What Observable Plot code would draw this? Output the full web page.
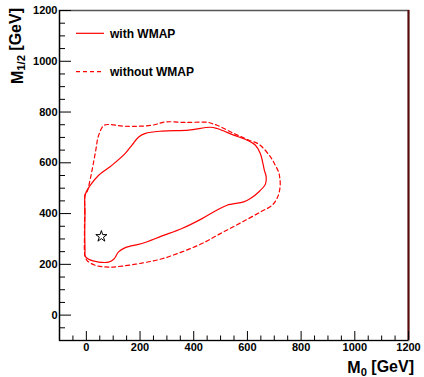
<!DOCTYPE html>
<html>
<head>
<meta charset="utf-8">
<script src="https://cdn.jsdelivr.net/npm/d3@7"></script>
<script src="https://cdn.jsdelivr.net/npm/@observablehq/plot@0.6"></script>
<style>
  html, body { margin: 0; padding: 0; background: #fff; }
  #chart { width: 424px; height: 377px; }
</style>
</head>
<body>
<div id="chart"></div>
<script>
// ---- data (GeV) ----
const withX = [-4, -5, -6, -5, -6, 9, 46, 83, 102, 120, 145, 207, 282, 356, 431, 480, 524, 586, 611, 642, 667, 670, 663, 648, 629, 599, 549, 487, 462, 381, 282, 220, 195, 170, 145, 96, 46, 15];
const withY = [475, 400, 320, 250, 235, 220, 209, 209, 220, 249, 266, 282, 312, 341, 380, 410, 433, 446, 459, 485, 516, 544, 571, 637, 670, 689, 709, 735, 740, 729, 725, 716, 702, 670, 637, 591, 551, 512];

const withoutX = [-4, -6, -7, -6, 2, 34, 83, 133, 207, 282, 356, 431, 499, 574, 648, 692, 713, 722, 720, 716, 704, 686, 643, 606, 549, 487, 474, 456, 369, 294, 245, 145, 83, 64, 46, 34, 15, 2];
const withoutY = [479, 413, 308, 242, 216, 196, 189, 193, 205, 222, 249, 282, 321, 363, 406, 433, 466, 510, 545, 564, 590, 623, 673, 689, 716, 748, 752, 759, 759, 761, 748, 744, 751, 746, 709, 643, 538, 485];

const bestFitX = [56];
const bestFitY = [310];

const xMajor = [0, 200, 400, 600, 800, 1000, 1200];
const yMajor = [0, 200, 400, 600, 800, 1000, 1200];
const xMinor = d3.range(-50, 1200, 50).filter(v => v % 200 !== 0);
const yMinor = d3.range(-50, 1200, 50).filter(v => v % 200 !== 0);

const legendLabels = ["with WMAP", "without WMAP"];
const legendDash = [null, "4,3"];

// ---- tables ----
const withData = withX.map((x, i) => ({x, y: withY[i]}));
const withoutData = withoutX.map((x, i) => ({x, y: withoutY[i]}));
const bestFit = bestFitX.map((x, i) => ({x, y: bestFitY[i]}));

const W = 424, H = 377;
const mL = 59, mR = 16, mT = 10, mB = 37;
const frameW = W - mL - mR, frameH = H - mT - mB;
const fmt = d3.format("d");

const plot = Plot.plot({
  width: W, height: H,
  marginLeft: mL, marginRight: mR, marginTop: mT, marginBottom: mB,
  style: {fontFamily: "'Liberation Sans', Arial, sans-serif", fontSize: "11px", fontWeight: "bold", color: "#000", background: "#fff"},
  x: {domain: [-100, 1200]},
  y: {domain: [-100, 1200]},
  marks: [
    Plot.frame({stroke: "#555", strokeWidth: 1.5}),
    Plot.ruleX([-100], {stroke: "#000", strokeWidth: 1.2}),
    Plot.ruleY([-100], {stroke: "#000", strokeWidth: 1.2}),
    Plot.ruleX([1200], {stroke: "#5a0808", strokeWidth: 2}),
    // ticks (inward, ROOT style)
    Plot.tickX(xMajor, {x: d => d, insetTop: frameH - 9, stroke: "#000"}),
    Plot.tickX(xMinor, {x: d => d, insetTop: frameH - 4.5, stroke: "#000"}),
    Plot.tickY(yMajor, {y: d => d, insetRight: frameW - 12, stroke: "#000"}),
    Plot.tickY(yMinor, {y: d => d, insetRight: frameW - 6, stroke: "#000"}),
    Plot.axisX(xMajor, {anchor: "bottom", tickSize: 0, tickPadding: 3, label: null, tickFormat: fmt, fontWeight: "bold", fontSize: 11}),
    Plot.axisY(yMajor, {anchor: "left", tickSize: 0, tickPadding: 2, label: null, tickFormat: fmt, fontWeight: "bold", fontSize: 11}),
    // contours
    Plot.line(withoutData, {x: "x", y: "y", stroke: "#ff0000", strokeWidth: 1.2, strokeDasharray: "4,3", curve: "catmull-rom-closed"}),
    Plot.line(withData, {x: "x", y: "y", stroke: "#ff0000", strokeWidth: 1.2, curve: "catmull-rom-closed"}),
    Plot.dot(bestFit, {x: "x", y: "y", symbol: "star", r: 3.5, fill: "none", stroke: "#000", strokeWidth: 1})
  ]
});

document.getElementById("chart").appendChild(plot);

const svg = d3.select(plot);
const font = "'Liberation Sans', Arial, sans-serif";

// legend
legendLabels.forEach((label, i) => {
  const y = 33.3 + i * 38.4;
  svg.append("line")
    .attr("x1", 76).attr("x2", 104).attr("y1", y).attr("y2", y)
    .attr("stroke", "#ff0000").attr("stroke-width", 1.2)
    .attr("stroke-dasharray", legendDash[i]);
  svg.append("text")
    .attr("x", 110).attr("y", y).attr("dy", "0.35em")
    .attr("text-anchor", "start")
    .attr("font-family", font).attr("font-size", 12).attr("font-weight", "bold")
    .attr("fill", "#000").text(label);
});

// axis titles
function title(sel, main, sub, rest) {
  sel.append("tspan").text(main);
  sel.append("tspan").attr("font-size", "70%").attr("dy", "0.25em").text(sub);
  sel.append("tspan").attr("dy", "-0.25em").text(rest);
}
const xt = svg.append("text")
  .attr("x", 414).attr("y", 373)
  .attr("text-anchor", "end")
  .attr("font-family", font).attr("font-size", 16).attr("font-weight", "bold").attr("fill", "#000");
title(xt, "M", "0", " [GeV]");

const yt = svg.append("text")
  .attr("transform", "translate(22.5,8) rotate(-90)")
  .attr("text-anchor", "end")
  .attr("font-family", font).attr("font-size", 16).attr("font-weight", "bold").attr("fill", "#000");
title(yt, "M", "1/2", " [GeV]");
</script>
</body>
</html>
